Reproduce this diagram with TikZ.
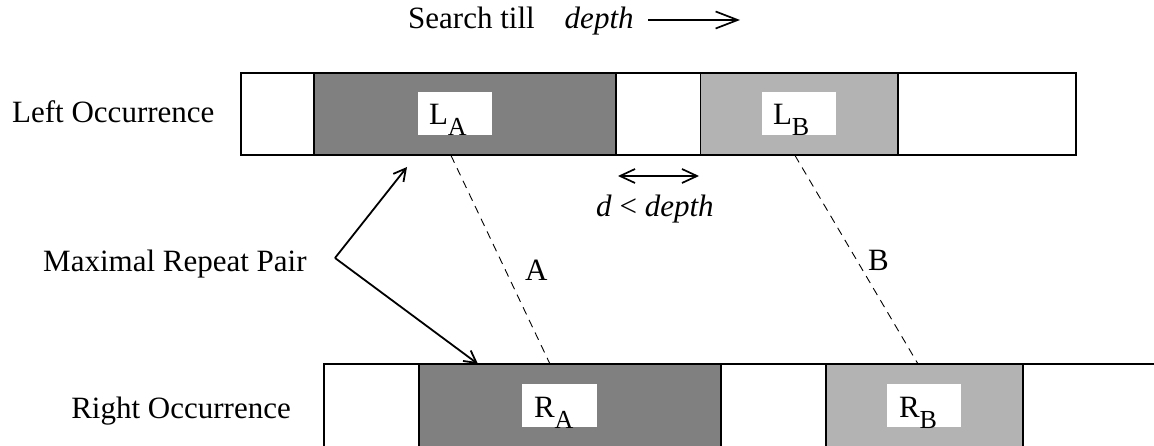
\documentclass[tikz,border=0pt]{standalone}
\usepackage{fontspec}
\setmainfont{Liberation Serif}
\usetikzlibrary{arrows.meta}
\definecolor{darkseg}{HTML}{808080}
\definecolor{lightseg}{HTML}{B3B3B3}
% letter with a lowered, smaller index
\newcommand{\segname}[2]{#1\raisebox{-11pt}{\fontsize{26}{26}\selectfont #2}}

\begin{document}
\begin{tikzpicture}[x=1pt,y=-1pt,
  txt/.style={font=\fontsize{31}{37}\selectfont, inner sep=0pt},
  bar/.style={draw, line width=2pt, inner sep=0pt, rectangle},
  seg/.style={draw, line width=1.2pt, inner sep=0pt, rectangle},
  tag/.style={fill=white, inner sep=0pt, minimum width=74pt, minimum height=43pt},
  link/.style={dashed, line width=0.9pt, dash pattern=on 8pt off 6pt},
  pointer/.style={line width=1.8pt, -{Straight Barb[length=12pt,width=13pt,line width=1.8pt]}},
  span/.style={line width=1.7pt, {Straight Barb[length=15pt,width=14pt,line width=1.7pt]}-{Straight Barb[length=15pt,width=14pt,line width=1.7pt]}},
  forward/.style={line width=1.7pt, -{Straight Barb[length=22pt,width=17pt,line width=1.7pt]}}]
\useasboundingbox (0,0) rectangle (1154,446);
\clip (0,0) rectangle (1154,446);

% left occurrence: coloured segments, then the frame on top
\node[seg, fill=darkseg, minimum width=302pt, minimum height=82.5pt] (segLA) at (465,114.25) {};
\node[seg, fill=lightseg, minimum width=197.5pt, minimum height=82.5pt] (segLB) at (799.25,114.25) {};
\node[bar, minimum width=834.5pt, minimum height=82.5pt] (topbar) at (658.25,114.25) {};

% right occurrence (runs off the right and bottom edges)
\node[seg, fill=darkseg, minimum width=302pt, minimum height=106pt] (segRA) at (570,417) {};
\node[seg, fill=lightseg, minimum width=197pt, minimum height=106pt] (segRB) at (924.5,417) {};
\node[bar, minimum width=846pt, minimum height=106pt] (botbar) at (747,417) {};

% white tags with segment names
\node[tag] (tagLA) at (455,113.5) {};
\node[tag] (tagLB) at (799,113.5) {};
\node[tag, minimum width=75pt] (tagRA) at (559.5,405.5) {};
\node[tag] (tagRB) at (924,405.5) {};
\node[txt, anchor=base west] (nLA) at ([shift={(11,-11)}]tagLA.south west) {\segname{L}{A}};
\node[txt, anchor=base west] (nLB) at ([shift={(11,-11)}]tagLB.south west) {\segname{L}{B}};
\node[txt, anchor=base west] (nRA) at ([shift={(12,-10)}]tagRA.south west) {\segname{R}{A}};
\node[txt, anchor=base west] (nRB) at ([shift={(12,-10)}]tagRB.south west) {\segname{R}{B}};

% row captions
\node[txt, anchor=base west] (leftocc) at (12,123) {Left Occurrence};
\node[txt, anchor=base east] (rightocc) at (291,418) {Right Occurrence};

% search direction
\node[txt, anchor=base west] (search) at (408,29) {Search till\hspace{30pt}\textit{depth}};
\coordinate (fwdS) at (648,20);
\coordinate (fwdE) at (740,20);
\draw[forward] (fwdS) -- (fwdE);

% gap between the two segments
\coordinate (gapL) at (618,176);
\coordinate (gapR) at (699,176);
\draw[span] (gapL) -- (gapR);
\node[txt, anchor=base west] (gaplbl) at (596,217) {\textit{d} < \textit{depth}};

% correspondences between occurrences
\coordinate (aTop) at (451,155.5);
\coordinate (aBot) at (550,364);
\coordinate (bTop) at (795,155.5);
\coordinate (bBot) at (918,364);
\draw[link] (aTop) -- (aBot);
\draw[link] (bTop) -- (bBot);
\node[txt, anchor=base west] (lblA) at (525,281) {A};
\node[txt, anchor=base west] (lblB) at (868,271) {B};

% maximal repeat pair pointers
\node[txt, anchor=base west] (mrp) at (43,272) {Maximal Repeat Pair};
\coordinate (fork) at (335,258);
\coordinate (tipUp) at (407,167);
\coordinate (tipDown) at (478,364);
\draw[pointer] (fork) -- (tipUp);
\draw[pointer] (fork) -- (tipDown);
\end{tikzpicture}
\end{document}
